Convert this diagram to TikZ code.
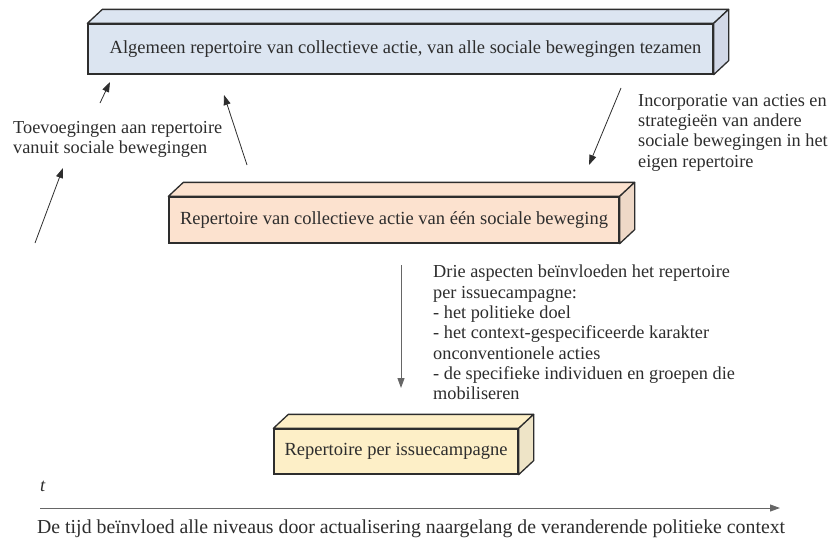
\documentclass[tikz,border=0pt]{standalone}
\usepackage{fontspec}
\setmainfont{Liberation Serif}
\usepackage{tikz}
\usetikzlibrary{shapes,arrows,arrows.meta,positioning}
\definecolor{blauw}{RGB}{220,229,241}
\definecolor{blauwzij}{RGB}{210,216,231}
\definecolor{perzik}{RGB}{252,226,207}
\definecolor{perzikzij}{RGB}{238,216,199}
\definecolor{geel}{RGB}{253,239,199}
\definecolor{geelzij}{RGB}{238,228,199}
\definecolor{inkt}{RGB}{45,45,45}
\tikzstyle{blok} = [rectangle, draw=inkt, line width=1.3pt, inner sep=0pt, text=inkt, font=\fontsize{18.5}{20.3}\selectfont]
\tikzstyle{vlak} = [draw=inkt, line width=1.3pt, line join=round]
\tikzstyle{tekst} = [align=left, anchor=north west, inner sep=0pt, text=inkt, font=\fontsize{18.3}{20.3}\selectfont]
\tikzstyle{line} = [draw, inkt, line width=0.8pt, -{Triangle[length=10pt,width=7pt]}]
\tikzstyle{gline} = [draw, black!60, line width=1pt, -{Triangle[length=10pt,width=7pt]}]

\begin{document}
\begin{tikzpicture}[x=1pt, y=-1pt]
			\useasboundingbox (0,0) rectangle (832,541);

			% de drie blokken
			\node [blok, fill=blauw, minimum width=625pt, minimum height=50pt] (alg) at (400.5,49) {\hspace{10pt}Algemeen repertoire van collectieve actie, van alle sociale bewegingen tezamen};
			\node [blok, fill=perzik, minimum width=450pt, minimum height=46pt] (een) at (394,220) {Repertoire van collectieve actie van \'e\'en sociale beweging};
			\node [blok, fill=geel, minimum width=244pt, minimum height=45pt] (issue) at (396,451.5) {Repertoire per issuecampagne};

			\foreach \b/\kleur in {alg/blauw, een/perzik, issue/geel} {
				\path [vlak, fill=\kleur] (\b.north west) -- ([xshift=15pt,yshift=14pt]\b.north west) -- ([xshift=15pt,yshift=14pt]\b.north east) -- (\b.north east) -- cycle;
				\path [vlak, fill=\kleur zij] (\b.north east) -- ([xshift=15pt,yshift=14pt]\b.north east) -- ([xshift=15pt,yshift=14pt]\b.south east) -- (\b.south east) -- cycle;
			}

			% toelichtingen
			\node [tekst] (toev) at (13,121) {Toevoegingen aan repertoire\\vanuit sociale bewegingen};
			\node [tekst] (inc) at (638,94) {Incorporatie van acties en\\strategie\"en van andere\\sociale bewegingen in het\\eigen repertoire};
			\node [tekst] (drie) at (433,265) {Drie aspecten be\"invloeden het repertoire\\per issuecampagne:\\- het politieke doel\\- het context-gespecificeerde karakter\\onconventionele acties\\- de specifieke individuen en groepen die\\mobiliseren};

			% pijlen
			\coordinate (a1) at (100,103);
			\coordinate (a2) at (110,82);
			\coordinate (b1) at (247,165);
			\coordinate (b2) at (224,95);
			\coordinate (c1) at (35,243);
			\coordinate (c2) at (63,168);
			\coordinate (d1) at (621,88);
			\coordinate (d2) at (589,165);
			\coordinate (e1) at (401,265);
			\coordinate (e2) at (401,388);

			\path [line] (a1) -- (a2);
			\path [line] (b1) -- (b2);
			\path [line] (c1) -- (c2);
			\path [line] (d1) -- (d2);
			\path [gline] (e1) -- (e2);

			% tijdas
			\node [inner sep=0pt, anchor=base west, text=inkt, font=\fontsize{18.5}{20}\selectfont] (t) at (40,491) {\textit{t}};
			\coordinate (s1) at (40,508);
			\coordinate (s2) at (780,508);
			\path [gline] (s1) -- (s2);
			\node [inner sep=0pt, anchor=base west, text=inkt, font=\fontsize{19.8}{22}\selectfont] (tijd) at (37,533) {De tijd be\"invloed alle niveaus door actualisering naargelang de veranderende politieke context};
		\end{tikzpicture}
\end{document}
